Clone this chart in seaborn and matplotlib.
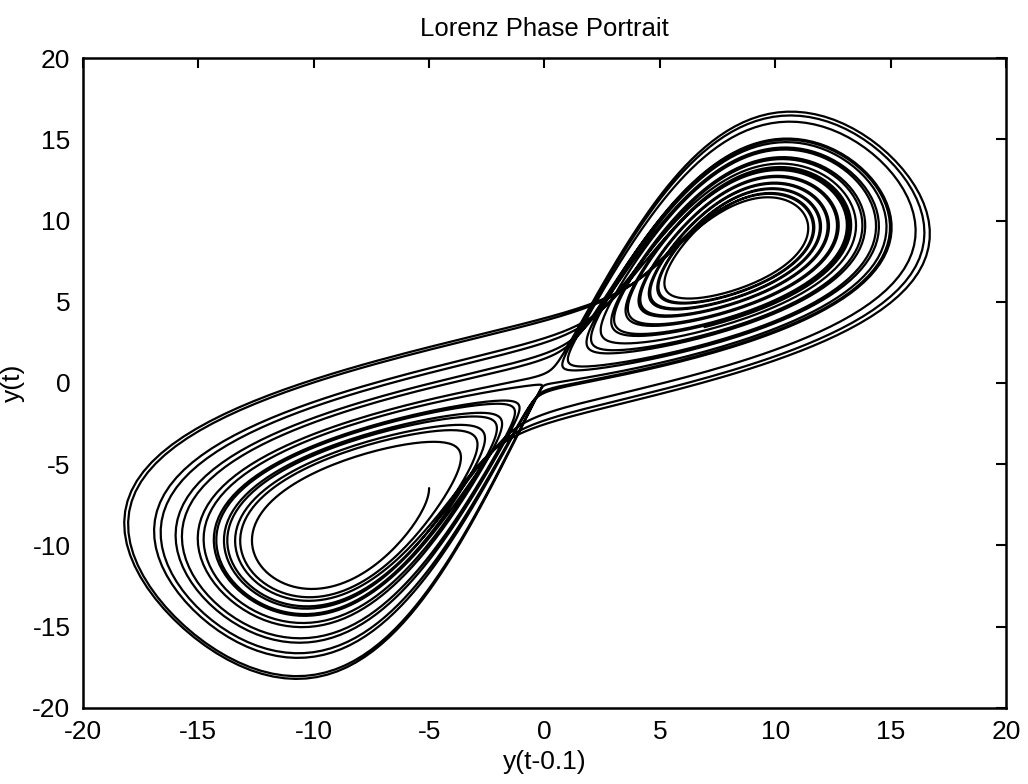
import numpy as np
import pandas as pd
import matplotlib
matplotlib.use("Agg")
import matplotlib.pyplot as plt
import seaborn as sns

# Lorenz system settings (the curve is a delay embedding of the x component)
sigma_rho_beta = [10.0, 28.0, 8.0 / 3.0]
start_state = [-5.0, -5.0, 20.0]
time_span = [0.0, 28.0]
step = 0.005
lag = 0.1

axis_limits = [-20, 20]
tick_values = [-20, -15, -10, -5, 0, 5, 10, 15, 20]


def lorenz(state, p):
    s, r, b = p
    x, y, z = state
    return np.array([s * (y - x), x * (r - z) - y, x * y - b * z])


def integrate(state0, p, t0, t1, h):
    n = int(round((t1 - t0) / h))
    out = np.empty((n + 1, 3))
    out[0] = state0
    st = np.array(state0, dtype=float)
    for i in range(n):
        k1 = lorenz(st, p)
        k2 = lorenz(st + 0.5 * h * k1, p)
        k3 = lorenz(st + 0.5 * h * k2, p)
        k4 = lorenz(st + h * k3, p)
        st = st + h / 6.0 * (k1 + 2 * k2 + 2 * k3 + k4)
        out[i + 1] = st
    return out


traj = integrate(start_state, sigma_rho_beta, time_span[0], time_span[1], step)
sig = traj[:, 0]
k = int(round(lag / step))
df = pd.DataFrame({"lagged": sig[:-k], "current": sig[k:]})

sns.set_style("white")
plt.rcParams["font.family"] = ["Liberation Sans", "DejaVu Sans"]
plt.rcParams["axes.unicode_minus"] = False
plt.rcParams["text.color"] = "black"
plt.rcParams["axes.labelcolor"] = "black"

fig, ax = plt.subplots(figsize=(10.28, 7.84), dpi=100)
fig.subplots_adjust(left=0.0807, right=0.9786, top=0.926, bottom=0.097)

sns.lineplot(data=df, x="lagged", y="current", sort=False, estimator=None,
             color="black", linewidth=1.6, ax=ax)

ax.set_xlim(axis_limits)
ax.set_ylim(axis_limits)
ax.set_xticks(tick_values)
ax.set_yticks(tick_values)
ax.tick_params(direction="in", length=7, width=1.5, top=True, right=True,
               labelsize=19, pad=9, colors="black")
for sp in ax.spines.values():
    sp.set_linewidth(1.8)
    sp.set_color("black")

ax.set_title("Lorenz Phase Portrait", fontsize=18.5, pad=16, color="black")
ax.set_xlabel("y(t-0.1)", fontsize=19, labelpad=4)
ax.set_ylabel("y(t)", fontsize=19)
ax.yaxis.set_label_coords(-0.063, 0.5)

fig.savefig("out.png", dpi=100)
